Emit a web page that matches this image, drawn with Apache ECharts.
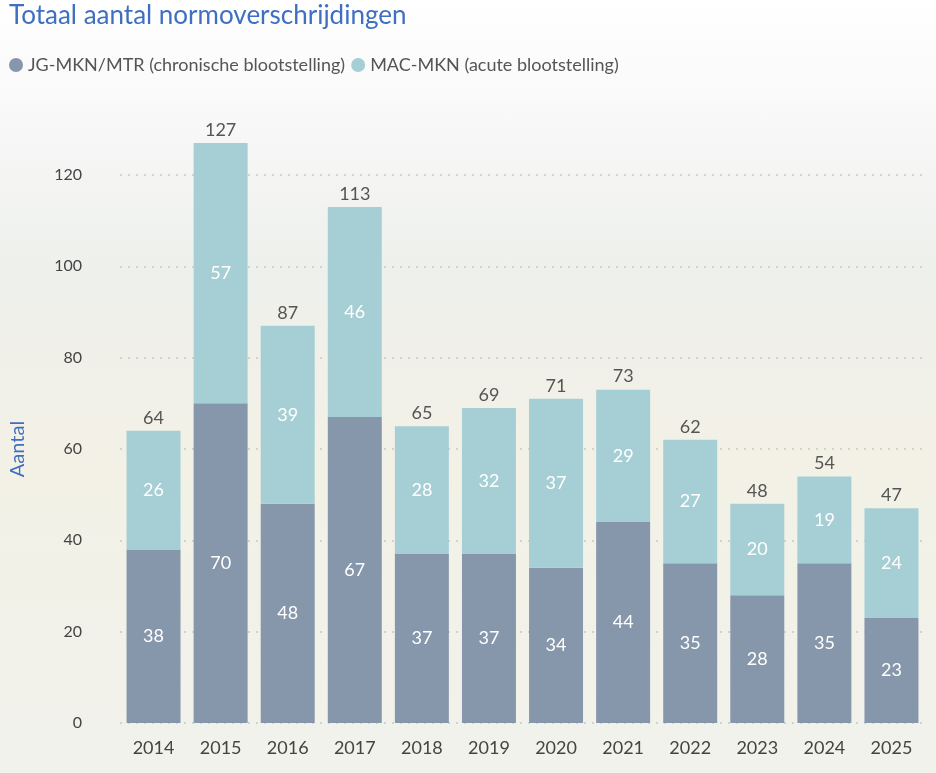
<!DOCTYPE html>
<html>
<head>
<meta charset="utf-8">
<script src="https://cdn.jsdelivr.net/npm/echarts@6/dist/echarts.min.js"></script>
<style>
  html, body { margin: 0; padding: 0; }
  #chart { width: 936px; height: 773px;
    background: linear-gradient(to bottom, #ffffff 0%, #f6f7f6 18%, #eef0ec 35%, #f3f1e6 60%, #f1f2ec 100%); }
</style>
</head>
<body>
<div id="chart"></div>
<script>
var years = ['2014', '2015', '2016', '2017', '2018', '2019', '2020', '2021', '2022', '2023', '2024', '2025'];
var chronisch = [38, 70, 48, 67, 37, 37, 34, 44, 35, 28, 35, 23];
var acuut = [26, 57, 39, 46, 28, 32, 37, 29, 27, 20, 19, 24];
var totals = [64, 127, 87, 113, 65, 69, 71, 73, 62, 48, 54, 47];

var font = 'Lato';
var chart = echarts.init(document.getElementById('chart'));

chart.setOption({
    textStyle: { fontFamily: font },
    title: {
        text: 'Totaal aantal normoverschrijdingen',
        left: 4,
        top: -2,
        textStyle: { color: '#3f6fc0', fontSize: 26, fontWeight: 'normal', fontFamily: font }
    },
    legend: {
        left: 4,
        top: 51,
        icon: 'circle',
        itemWidth: 14,
        itemHeight: 14,
        itemGap: 6,
        textStyle: { color: '#555', fontSize: 18, fontFamily: font },
        data: ['JG-MKN/MTR (chronische blootstelling)', 'MAC-MKN (acute blootstelling)']
    },
    grid: { left: 118, right: 11, top: 175, bottom: 50 },
    xAxis: {
        type: 'category',
        data: years,
        axisLine: { show: false },
        axisTick: { show: false },
        axisLabel: { color: '#444', fontSize: 18, margin: 16 }
    },
    yAxis: {
        type: 'value',
        min: 0,
        max: 120,
        interval: 20,
        name: 'Aantal',
        nameLocation: 'middle',
        nameGap: 92,
        nameTextStyle: { color: '#3f6fc0', fontSize: 20 },
        axisLabel: { color: '#444', fontSize: 16, margin: 38 },
        splitLine: { lineStyle: { color: '#c8c8c8', type: [2, 6], width: 1.5 } }
    },
    series: [{
        name: 'JG-MKN/MTR (chronische blootstelling)',
        type: 'bar',
        stack: 'totaal',
        barWidth: 54,
        clip: false,
        itemStyle: { color: '#8797ab' },
        label: { show: true, position: 'inside', color: '#fff', fontSize: 18 },
        data: chronisch
    }, {
        name: 'MAC-MKN (acute blootstelling)',
        type: 'bar',
        stack: 'totaal',
        barWidth: 54,
        clip: false,
        itemStyle: { color: '#a6cfd5' },
        label: { show: true, position: 'inside', color: '#fff', fontSize: 18 },
        data: acuut
    }, {
        name: 'totaal',
        type: 'bar',
        stack: 'totaal',
        barWidth: 54,
        clip: false,
        silent: true,
        itemStyle: { color: 'transparent' },
        label: {
            show: true,
            position: 'insideBottom',
            distance: 4,
            color: '#555',
            fontSize: 18,
            formatter: function (p) { return totals[p.dataIndex]; }
        },
        data: totals.map(function () { return 0.001; })
    }]
});
</script>
</body>
</html>
